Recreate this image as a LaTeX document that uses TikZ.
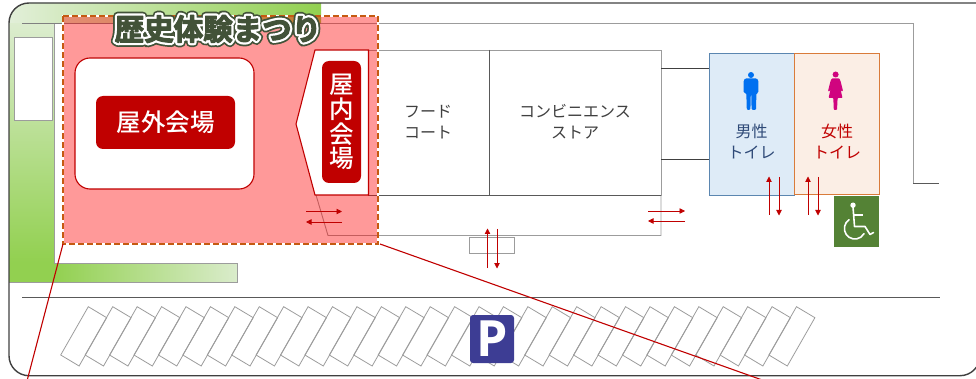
\documentclass[tikz,border=0pt]{standalone}
\usepackage{fontspec}
\usetikzlibrary{arrows.meta}
\newfontfamily\cjk{Noto Sans CJK JP}
\newfontfamily\cjkm{Noto Sans CJK JP Medium}
\newfontfamily\cjkb{Noto Sans CJK JP Bold}
\newfontfamily\latn{Open Sans}[BoldFont={Open Sans Bold}]
\definecolor{wallgray}{HTML}{9C9C9C}
\definecolor{darkline}{HTML}{595959}
\definecolor{framec}{HTML}{404040}
\definecolor{venue}{HTML}{C00000}
\definecolor{dashc}{HTML}{C55A11}
\definecolor{glight}{HTML}{E2EFD9}
\definecolor{gdark}{HTML}{92D050}
\definecolor{title}{HTML}{435238}
\definecolor{menbg}{HTML}{DEEBF7}
\definecolor{menln}{HTML}{5B86B0}
\definecolor{menfg}{HTML}{2F4A78}
\definecolor{womenbg}{HTML}{FBEEE5}
\definecolor{womenln}{HTML}{D97B3A}
\definecolor{wheel}{HTML}{548235}
\definecolor{pblue}{HTML}{3D3D94}
\definecolor{manc}{HTML}{0070F0}
\definecolor{womanc}{HTML}{D0047F}
\tikzset{
  box/.style={inner sep=0pt,outer sep=0pt,anchor=center},
  wall/.style={draw=wallgray,line width=0.9pt},
  darkwall/.style={draw=darkline,line width=0.9pt},
  flow/.style={draw=venue,line width=0.8pt,-{Triangle[length=5.5pt,width=5.5pt]}},
  leader/.style={draw=venue,line width=1.1pt},
  redlabel/.style={box,fill=venue,rounded corners=7pt,text=white,font=\cjkm\fontsize{24.5}{24.7}\selectfont},
  roomtext/.style={box,align=center,font=\cjk\fontsize{16}{21}\selectfont},
}
\newcommand{\flowarrow}[3]{\coordinate (#1s) at (#2); \coordinate (#1e) at (#3); \draw[flow] (#1s) -- (#1e);}
\newcommand{\strokedtext}[3]{% stroke width, rgb, text
  \rlap{\special{pdf:code q 2 Tr #1 w 1 j 1 J #2 RG #2 rg}#3\special{pdf:code Q}}}
\begin{document}
\begin{tikzpicture}[x=1pt,y=-1pt]
\useasboundingbox (0,0) rectangle (976,379);
\clip (0,0) rectangle (976,379);
% green grounds
\begin{scope}
\clip (9,23) arc[start angle=180,end angle=270,radius=20] -- (321,3) -- (321,23) -- (54,23) -- (54,263) -- (237.5,263) -- (237.5,282.7) -- (9,282.7) -- cycle;
\shade[top color=glight,bottom color=gdark] (9,3) rectangle (54,262);
\fill[gdark] (9,262) rectangle (54,283);
\shade[left color=glight,right color=gdark] (9,3) rectangle (321,23);
\shade[left color=gdark,right color=glight!90!gdark] (54,263) rectangle (237.5,283);
\end{scope}
\draw[wall] (321,23) -- (54,23) -- (54,263) -- (237.5,263) -- (237.5,282.7) -- (9,282.7);
% outer frame
\draw[draw=framec,line width=1.4pt,rounded corners=20pt] (990,3) -- (9,3) -- (9,375.7) -- (980,375.7) -- (980,3);
% site lines
\coordinate (topA) at (22,23); \coordinate (topB) at (913,23); \coordinate (topC) at (913,183); \coordinate (topD) at (939,183);
\draw[wall] (topA) -- (topB) -- (topC);
\draw[darkwall] (topC) -- (topD);
\draw[draw=gray,line width=0.9pt] (topA) -- (321,23);
\node[box,wall,fill=white,minimum width=38pt,minimum height=83pt] (gate) at (33,78.5) {};
\coordinate (roadA) at (22,297.5); \coordinate (roadB) at (940,297.5);
\draw[darkwall] (roadA) -- (roadB);
% building
\coordinate (bA) at (316,195); \coordinate (bB) at (328,235.5); \coordinate (bC) at (661,235.5); \coordinate (bD) at (661,195);
\draw[wall] (bA) -- (bB) -- (bC) -- (bD);
\node[box,wall,fill=white,minimum width=121pt,minimum height=145pt] (food) at (428.5,122.5) {};
\node[box,wall,fill=white,minimum width=172pt,minimum height=145pt] (store) at (575,122.5) {};
\draw[darkwall] (food.south west) -- (store.south east);
\draw[darkwall] (food.north east) -- (food.south east);
\node[roomtext,text=framec,align=left] (foodt) at (428,122) {フード\\コート};
\node[roomtext,text=framec] (storet) at (575,122) {コンビニエンス\\ストア};
\node[box,wall,fill=white,minimum width=45pt,minimum height=16.5pt] (step1) at (491.5,245.5) {};
% toilets
\node[box,draw=menln,line width=0.9pt,fill=menbg,minimum width=85pt,minimum height=142pt] (men) at (751.5,124) {};
\node[box,draw=womenln,line width=0.9pt,fill=womenbg,minimum width=85pt,minimum height=141pt] (women) at (836.5,123.5) {};
\coordinate (c1) at (661,68.5); \coordinate (c2) at (709,68.5); \coordinate (c3) at (661,159); \coordinate (c4) at (709,159);
\draw[draw=framec,line width=0.8pt] (c1) -- (c2) (c3) -- (c4);
\node[roomtext,text=menfg] (ment) at (751.5,142) {男性\\トイレ};
\node[roomtext,text=venue] (woment) at (837,142) {女性\\トイレ};
% man icon
\fill[manc] (751,75) circle[radius=3];
\fill[manc,rounded corners=1.2pt] (743.7,93) -- (743.7,80) -- (745.5,78.3) -- (756.5,78.3) -- (758.3,80) -- (758.3,93) -- (756.4,93) -- (756,110) -- (751.6,110) -- (751.2,94) -- (750.8,94) -- (750.4,110) -- (746.8,110) -- (746.3,93) -- cycle;
% woman icon
\fill[womanc] (835.6,74.5) circle[radius=3];
\fill[womanc,rounded corners=0.8pt] (832,78.3) -- (839.2,78.3) -- (840.5,81) -- (843,91) -- (841.6,91.6) -- (840,87) -- (842.5,98) -- (837.6,98) -- (837,110) -- (833.8,110) -- (833.3,98) -- (828.6,98) -- (831,87) -- (829.4,91.6) -- (828,91) -- (830.5,81) -- cycle;
% wheelchair sign
\node[box,fill=wheel,minimum width=45.5pt,minimum height=51pt] (wc) at (856.3,221.5) {};
\fill[white] (853,205.2) circle[radius=2.7];
\draw[white,line width=1.6pt,line cap=round,line join=round] (853,207) -- (854.5,226.5) -- (865,226.5) -- (870,234.5) -- (873.5,232.5);
\draw[white,line width=1.6pt] (853.6,214.8) -- (863,214.8);
\draw[white,line width=1.6pt,line cap=round] (849,219.8) arc[start angle=236,end angle=30,radius=10.5];
% event area
\node[box,fill=red,fill opacity=0.4,minimum width=315pt,minimum height=228pt] (area) at (220.5,130) {};
\draw[draw=white,line width=1.3pt] (area.north west) rectangle (area.south east);
\draw[draw=dashc,line width=1.3pt,dash pattern=on 6pt off 3pt] (area.north west) rectangle (area.south east);
% outdoor
\node[box,draw=venue,line width=1.1pt,fill=white,rounded corners=15pt,minimum width=179pt,minimum height=131pt] (outdoor) at (164.5,123.5) {};
\node[redlabel,minimum width=139pt,minimum height=53pt] (outlabel) at (165.5,122.5) {屋外会場};
% indoor
\coordinate (iA) at (315,50); \coordinate (iB) at (368.5,50); \coordinate (iC) at (368.5,195); \coordinate (iD) at (315,195); \coordinate (iE) at (296,124);
\draw[draw=venue,line width=1.1pt,fill=white] (iA) -- (iB) -- (iC) -- (iD) -- (iE) -- cycle;
\node[redlabel,align=center,minimum width=39pt,minimum height=122pt] (inlabel) at (341.5,122) {屋\\内\\会\\場};
% flow arrows
\flowarrow{a1}{306,211.5}{342,211.5}
\flowarrow{a2}{342,222}{306,222}
\flowarrow{a3}{648,211}{685,211}
\flowarrow{a4}{685,221}{648,221}
\flowarrow{a5}{769,215}{769,176.5}
\flowarrow{a6}{779,177}{779,215.5}
\flowarrow{a7}{808,215}{808,176.5}
\flowarrow{a8}{818,177}{818,215.5}
\flowarrow{a9}{487.5,268}{487.5,228.5}
\flowarrow{a10}{497,229}{497,268.5}
% parking
\foreach \i in {0,...,29} {
  \draw[draw=wallgray,line width=0.8pt] ({88.3+24.42*\i},306.7) -- ++(18.4,11) -- ++(-27.6,48.3) -- ++(-18.4,-11) -- cycle;
}
\node[box,fill=pblue,rounded corners=3pt,minimum width=44pt,minimum height=48pt,text=white,font=\latn\bfseries\fontsize{50}{50}\selectfont] (psign) at (492,339) {P};
% leaders
\coordinate (l1) at (27,381); \coordinate (l2) at (765,381);
\draw[leader] (area.south west) -- (l1);
\draw[leader] ([xshift=2pt]area.south east) -- (l2);
% title
\node[box,font=\cjkb\fontsize{29.5}{30}\selectfont] (titlet) at (218,29) {%
  \strokedtext{9}{0.26 0.32 0.22}{歴史体験まつり}%
  \strokedtext{5.5}{1 1 1}{歴史体験まつり}%
  \strokedtext{1}{0.26 0.32 0.22}{歴史体験まつり}%
  \phantom{歴史体験まつり}};
\end{tikzpicture}
\end{document}
